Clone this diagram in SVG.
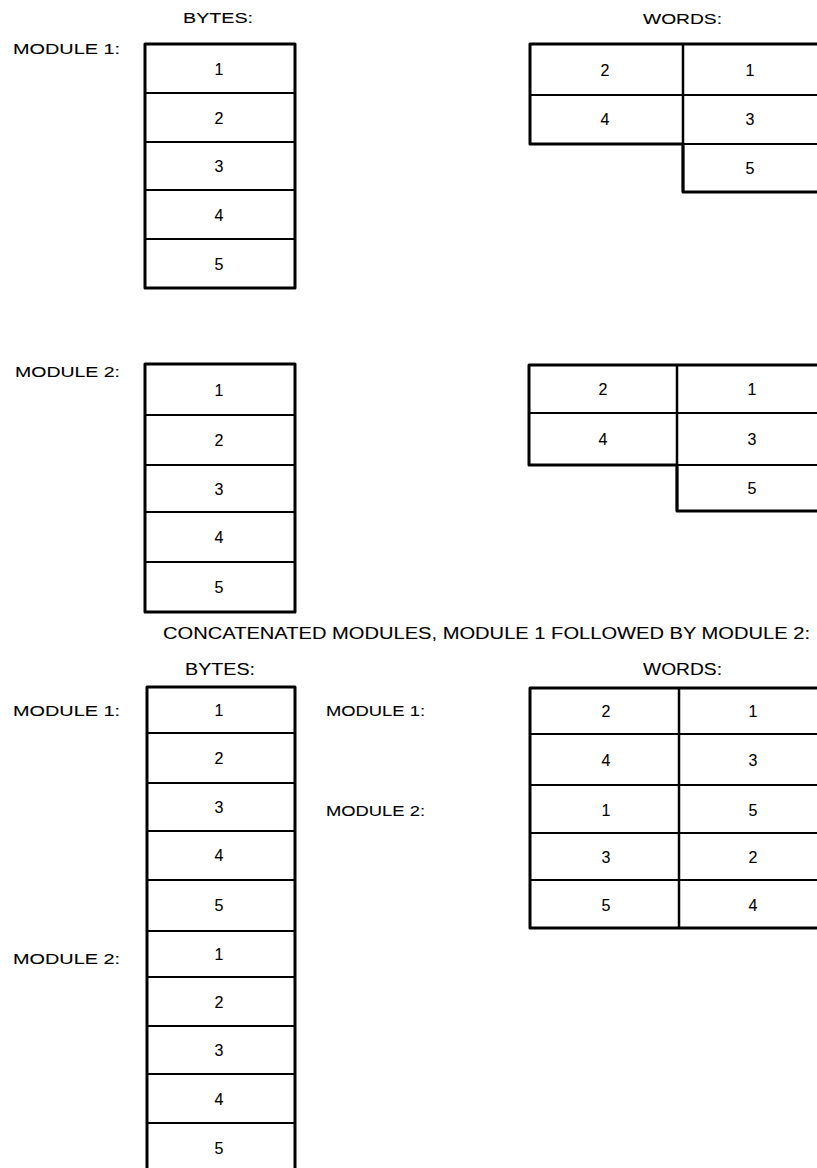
<svg xmlns="http://www.w3.org/2000/svg" width="817" height="1168" viewBox="0 0 817 1168">
<style>
text{font-family:"Liberation Sans",Arial,sans-serif;fill:#000;stroke:#000;stroke-width:0.1;}
.lbl{font-size:15px;}
.num{font-size:16px;text-anchor:middle;}
.hd{font-size:15px;}
.big{font-size:16.5px;}
.out{fill:none;stroke:#000;stroke-width:3;stroke-linejoin:round;}
.div{fill:none;stroke:#000;stroke-width:2;}
</style>
<rect width="817" height="1168" fill="#fff"/>

<!-- headers -->
<text class="hd" x="183" y="23" textLength="70" lengthAdjust="spacingAndGlyphs">BYTES:</text>
<text class="hd" x="643" y="24" textLength="79" lengthAdjust="spacingAndGlyphs">WORDS:</text>
<text class="lbl" x="13" y="54" textLength="107" lengthAdjust="spacingAndGlyphs">MODULE 1:</text>
<text class="lbl" x="15" y="377" textLength="105" lengthAdjust="spacingAndGlyphs">MODULE 2:</text>

<!-- Module 1 bytes -->
<g id="m1-bytes">
<rect class="out" x="145" y="44" width="150" height="244"/>
<path class="div" d="M145 93H295M145 142H295M145 190H295M145 239H295"/>
<text class="num" x="219" y="75">1</text>
<text class="num" x="219" y="124">2</text>
<text class="num" x="219" y="172">3</text>
<text class="num" x="219" y="221">4</text>
<text class="num" x="219" y="270">5</text>
</g>

<!-- Module 1 words -->
<g id="m1-words">
<path class="out" d="M830 44H530V144H683V192H830"/>
<path class="div" d="M530 95H830M683 144H830"/>
<path class="out" d="M683 44V192" style="stroke-width:2.5"/>
<text class="num" x="605" y="76">2</text>
<text class="num" x="750" y="76">1</text>
<text class="num" x="605" y="125">4</text>
<text class="num" x="750" y="125">3</text>
<text class="num" x="750" y="174">5</text>
</g>

<!-- Module 2 bytes -->
<g id="m2-bytes">
<rect class="out" x="145" y="364" width="150" height="248"/>
<path class="div" d="M145 415H295M145 465H295M145 512H295M145 562H295"/>
<text class="num" x="219" y="396">1</text>
<text class="num" x="219" y="446">2</text>
<text class="num" x="219" y="495">3</text>
<text class="num" x="219" y="543">4</text>
<text class="num" x="219" y="593">5</text>
</g>

<!-- Module 2 words -->
<g id="m2-words">
<path class="out" d="M830 365H529V465H677V511H830"/>
<path class="div" d="M529 413H830M677 465H830"/>
<path class="out" d="M677 365V511" style="stroke-width:2.5"/>
<text class="num" x="603" y="395">2</text>
<text class="num" x="752" y="395">1</text>
<text class="num" x="603" y="445">4</text>
<text class="num" x="752" y="445">3</text>
<text class="num" x="752" y="494">5</text>
</g>

<!-- Concatenated -->
<text class="big" x="163" y="639" textLength="647" lengthAdjust="spacingAndGlyphs">CONCATENATED MODULES, MODULE 1 FOLLOWED BY MODULE 2:</text>
<text class="big" x="185" y="675" textLength="70" lengthAdjust="spacingAndGlyphs">BYTES:</text>
<text class="big" x="643" y="675" textLength="79" lengthAdjust="spacingAndGlyphs">WORDS:</text>
<text class="lbl" x="13" y="716" textLength="107" lengthAdjust="spacingAndGlyphs">MODULE 1:</text>
<text class="lbl" x="13" y="964" textLength="107" lengthAdjust="spacingAndGlyphs">MODULE 2:</text>
<text class="lbl" x="326" y="716" textLength="99" lengthAdjust="spacingAndGlyphs">MODULE 1:</text>
<text class="lbl" x="326" y="816" textLength="99" lengthAdjust="spacingAndGlyphs">MODULE 2:</text>

<g id="cat-bytes">
<rect class="out" x="147" y="687" width="148" height="490"/>
<path class="div" d="M147 733H295M147 783H295M147 831H295M147 880H295M147 931H295M147 977H295M147 1026H295M147 1074H295M147 1123H295"/>
<text class="num" x="219" y="716">1</text>
<text class="num" x="219" y="764">2</text>
<text class="num" x="219" y="813">3</text>
<text class="num" x="219" y="861">4</text>
<text class="num" x="219" y="911">5</text>
<text class="num" x="219" y="960">1</text>
<text class="num" x="219" y="1008">2</text>
<text class="num" x="219" y="1056">3</text>
<text class="num" x="219" y="1105">4</text>
<text class="num" x="219" y="1154">5</text>
</g>

<g id="cat-words">
<path class="out" d="M830 688H530V928H830"/>
<path class="div" d="M530 734H830M530 785H830M530 833H830M530 880H830"/>
<path class="out" d="M679 688V928" style="stroke-width:2.5"/>
<text class="num" x="606" y="717">2</text>
<text class="num" x="753" y="717">1</text>
<text class="num" x="606" y="766">4</text>
<text class="num" x="753" y="766">3</text>
<text class="num" x="606" y="816">1</text>
<text class="num" x="753" y="816">5</text>
<text class="num" x="606" y="863">3</text>
<text class="num" x="753" y="863">2</text>
<text class="num" x="606" y="911">5</text>
<text class="num" x="753" y="911">4</text>
</g>
</svg>
